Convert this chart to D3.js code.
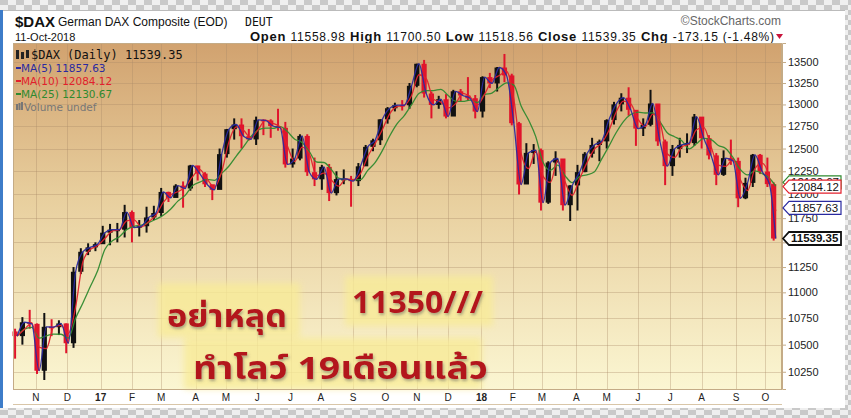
<!DOCTYPE html>
<html><head><meta charset="utf-8">
<script src="https://cdn.jsdelivr.net/npm/d3@7"></script>
<style>
html,body{margin:0;padding:0;background:#fff;}
svg{display:block;}
</style>
</head><body>
<svg id="c" width="851" height="418"></svg>
<script>
// ---------------- DATA ----------------
const weekEnd = ["2016-10-14","2016-10-21","2016-10-28","2016-11-04","2016-11-11","2016-11-18","2016-11-25","2016-12-02","2016-12-09","2016-12-16","2016-12-23","2016-12-30",
"2017-01-06","2017-01-13","2017-01-20","2017-01-27","2017-02-03","2017-02-10","2017-02-17","2017-02-24","2017-03-03","2017-03-10","2017-03-17","2017-03-24","2017-03-31",
"2017-04-07","2017-04-14","2017-04-21","2017-04-28","2017-05-05","2017-05-12","2017-05-19","2017-05-26","2017-06-02","2017-06-09","2017-06-16","2017-06-23","2017-06-30",
"2017-07-07","2017-07-14","2017-07-21","2017-07-28","2017-08-04","2017-08-11","2017-08-18","2017-08-25","2017-09-01","2017-09-08","2017-09-15","2017-09-22","2017-09-29",
"2017-10-06","2017-10-13","2017-10-20","2017-10-27","2017-11-03","2017-11-10","2017-11-17","2017-11-24","2017-12-01","2017-12-08","2017-12-15","2017-12-22","2017-12-29",
"2018-01-05","2018-01-12","2018-01-19","2018-01-26","2018-02-02","2018-02-09","2018-02-16","2018-02-23","2018-03-02","2018-03-09","2018-03-16","2018-03-23","2018-03-30",
"2018-04-06","2018-04-13","2018-04-20","2018-04-27","2018-05-04","2018-05-11","2018-05-18","2018-05-25","2018-06-01","2018-06-08","2018-06-15","2018-06-22","2018-06-29",
"2018-07-06","2018-07-13","2018-07-20","2018-07-27","2018-08-03","2018-08-10","2018-08-17","2018-08-24","2018-08-31","2018-09-07","2018-09-14","2018-09-21","2018-09-28",
"2018-10-05","2018-10-11"];
const firstOpen = 10624;
const weekClose = [10580,10711,10696,10259,10668,10664,10700,10513,11203,11404,11449,11481,
11599,11630,11630,11814,11651,11666,11757,11804,12027,11963,12095,12064,12313,
12225,12109,12049,12438,12717,12770,12638,12602,12823,12816,12753,12733,12325,
12389,12641,12240,12163,12298,12014,12165,12168,12143,12304,12519,12592,12829,
12956,12992,12991,13217,13479,13127,12994,13060,12861,13153,13104,13072,12918,
13320,13245,13434,13340,12785,12107,12452,12483,11913,12346,12390,11886,12097,
12241,12442,12540,12580,12820,13001,13078,12938,12724,12767,13011,12580,12306,
12496,12541,12561,12860,12616,12424,12211,12394,12364,11959,12124,12431,12247,
12111,11539];
const weekHigh = [10650,10760,10830,10700,10800,10740,10730,10700,11250,11440,11490,11500,
11670,11690,11700,11890,11830,11730,11870,11880,12070,12030,12110,12140,12320,
12310,12240,12100,12500,12720,12840,12840,12720,12860,12830,12830,12950,12800,
12500,12660,12660,12400,12320,12330,12250,12270,12200,12340,12540,12610,12830,
12970,13020,13050,13250,13480,13525,13150,13100,13120,13170,13180,13320,13110,
13330,13370,13440,13597,13360,12800,12560,12550,12500,12360,12470,12360,12100,
12320,12460,12620,12600,12830,13030,13130,13200,12880,12840,13170,13000,12600,
12540,12620,12670,12890,12830,12650,12450,12480,12600,12400,12180,12440,12440,
12400,12130];
const weekLow = [10370,10500,10650,10230,10175,10580,10590,10420,10470,11180,11370,11410,
11530,11470,11500,11550,11500,11560,11600,11730,11770,11920,11990,11860,12040,
12150,12080,11940,12380,12400,12600,12500,12590,12540,12650,12620,12700,12290,
12290,12370,12200,12090,12050,11930,11990,12110,11870,12090,12330,12470,12540,
12780,12920,12930,12950,13200,13080,12840,12950,12840,12880,13040,13040,12840,
12850,13190,13150,13260,12760,12000,12200,12330,11830,11900,12200,11830,11720,
11830,12240,12400,12360,12500,12770,12920,12870,12530,12640,12750,12530,12100,
12200,12400,12450,12530,12500,12380,12100,12200,12320,11865,11950,12080,12220,
12080,11518];
const priceTicks = [10250,10500,10750,11000,11250,11500,11750,12000,12250,12500,12750,13000,13250,13500];
const monthStarts = ["2016-11-01","2016-12-01","2017-01-02","2017-02-01","2017-03-01","2017-04-03","2017-05-02","2017-06-01","2017-07-03","2017-08-01","2017-09-01","2017-10-02",
"2017-11-01","2017-12-01","2018-01-02","2018-02-01","2018-03-01","2018-04-03","2018-05-02","2018-06-01","2018-07-02","2018-08-01","2018-09-03","2018-10-01"];
const monthLabels = ["N","D","17","F","M","A","M","J","J","A","S","O","N","D","18","F","M","A","M","J","J","A","S","O"];
const maPeriodsWeeks = [1,2,5];         // approx. of 5 / 10 / 25 trading days on weekly closes
const maNames = ["MA(5)","MA(10)","MA(25)"];
const maLast = [11857.63,12084.12,12130.67];
const maColors = ["#2a2aa0","#e3202c","#2f8a2f"];
const lastClose = 11539.35;
const supportLevels = [11475,11370];
const supportStart = ["2017-02-15","2016-12-30"];
const supportEnd = ["2018-10-01","2018-10-15"];
const header = {open:"11558.98",high:"11700.50",low:"11518.56",close:"11539.35",chg:"-173.15 (-1.48%)"};
const notes = ["อย่าหลุด","11350///","ทำโลว์ 19เดือนแล้ว"];

// ---------------- LAYOUT ----------------
const svg = d3.select("#c");
const L = 13, R = 782, T = 43, B = 389;
const parse = d3.timeParse("%Y-%m-%d");
const x = d3.scaleTime().domain([parse("2016-10-10"), parse("2018-10-17")]).range([L, R]);
const y = d3.scaleLog().domain([10094, 13730]).range([B, T]);

const defs = svg.append("defs");
const pat = defs.append("pattern").attr("id","chk").attr("width",16).attr("height",10).attr("patternUnits","userSpaceOnUse");
pat.append("rect").attr("width",16).attr("height",10).attr("fill","#efefef");
pat.append("rect").attr("x",0).attr("y",0).attr("width",8).attr("height",5).attr("fill","#c9c9c9");
pat.append("rect").attr("x",8).attr("y",5).attr("width",8).attr("height",5).attr("fill","#c9c9c9");
const grad = defs.append("linearGradient").attr("id","bg").attr("x1",0).attr("y1",0).attr("x2",0).attr("y2",1);
grad.append("stop").attr("offset","0%").attr("stop-color","#d1a26f");
grad.append("stop").attr("offset","45%").attr("stop-color","#e8cf9e");
grad.append("stop").attr("offset","100%").attr("stop-color","#fbf6d2");
const sh = defs.append("filter").attr("id","shadow").attr("x","-10%").attr("y","-50%").attr("width","120%").attr("height","300%");
sh.append("feDropShadow").attr("dx",1).attr("dy",2).attr("stdDeviation",1.5).attr("flood-color","#555").attr("flood-opacity",0.5);
const blur = defs.append("filter").attr("id","soft").attr("x","-20%").attr("y","-20%").attr("width","140%").attr("height","140%");
blur.append("feGaussianBlur").attr("stdDeviation",3);

// frame: checker borders
svg.append("rect").attr("x",0).attr("y",0).attr("width",851).attr("height",10).attr("fill","url(#chk)");
svg.append("rect").attr("x",0).attr("y",408).attr("width",851).attr("height",10).attr("fill","url(#chk)");
svg.append("rect").attr("x",845).attr("y",0).attr("width",6).attr("height",418).attr("fill","url(#chk)");
svg.append("rect").attr("x",0).attr("y",10).attr("width",3).attr("height",398).attr("fill","#3d7cc9");
svg.append("line").attr("x1",3).attr("x2",845).attr("y1",10.5).attr("y2",10.5).attr("stroke","#bbb");

// header
const ht = svg.append("g").attr("font-family","Liberation Sans, Arial, sans-serif").attr("fill","#111");
ht.append("text").attr("x",15).attr("y",27).attr("font-size",15).attr("font-weight","bold").text("$DAX");
ht.append("text").attr("x",58).attr("y",26).attr("font-size",12).text("German DAX Composite (EOD)");
ht.append("text").attr("x",245).attr("y",26).attr("font-size",11.5).attr("font-family","DejaVu Sans Mono, monospace").text("DEUT");
ht.append("text").attr("x",781).attr("y",25).attr("font-size",12).attr("fill","#666").attr("text-anchor","end").text("\u00A9StockCharts.com");
ht.append("text").attr("x",15).attr("y",41).attr("font-size",11).text("11-Oct-2018");
const ohlc = ht.append("text").attr("x",774).attr("y",41).attr("text-anchor","end").attr("font-size",12).attr("textLength",524).attr("lengthAdjust","spacing");
[["Open ",header.open],["High ",header.high],["Low ",header.low],["Close ",header.close],["Chg ",header.chg]].forEach((p,i)=>{
  ohlc.append("tspan").attr("font-weight","bold").attr("font-size",13).text((i?"  ":"")+p[0]);
  ohlc.append("tspan").text(p[1]);
});
svg.append("path").attr("d","M776,34 L783,34 L779.5,39 Z").attr("fill","#c8143c");

// plot background
svg.append("rect").attr("x",L).attr("y",T).attr("width",R-L).attr("height",B-T).attr("fill","url(#bg)");

// gridlines
const grid = svg.append("g").attr("stroke","#a88a66").attr("stroke-opacity",0.35).attr("stroke-width",1);
grid.selectAll("line.h").data(priceTicks).join("line").attr("x1",L).attr("x2",R)
  .attr("y1",d=>Math.round(y(d))+0.5).attr("y2",d=>Math.round(y(d))+0.5);
grid.selectAll("line.v").data(monthStarts).join("line").attr("y1",T).attr("y2",B)
  .attr("x1",d=>Math.round(x(parse(d)))+0.5).attr("x2",d=>Math.round(x(parse(d)))+0.5);

// annotation highlight boxes (behind data)
const hl = svg.append("g").attr("fill","#f8eb98").attr("opacity",0.8).attr("filter","url(#soft)");
hl.append("rect").attr("x",158).attr("y",283).attr("width",142).attr("height",54);
hl.append("rect").attr("x",345).attr("y",276).attr("width",148).attr("height",50);
hl.append("rect").attr("x",184).attr("y",338).attr("width",298).attr("height",51);

// bars
const weeks = weekEnd.map((d,i)=>({date:parse(d), mid:d3.timeDay.offset(parse(d),-2), h:weekHigh[i], l:weekLow[i], c:weekClose[i], o: i===0?firstOpen:weekClose[i-1]}));
const bars = svg.append("g");
bars.selectAll("line").data(weeks).join("line")
  .attr("x1",d=>x(d.mid)).attr("x2",d=>x(d.mid)).attr("y1",d=>y(d.h)).attr("y2",d=>y(d.l))
  .attr("stroke",d=>d.c>=d.o?"#111":"#e0142c").attr("stroke-width",2);
bars.selectAll("rect").data(weeks).join("rect")
  .attr("x",d=>x(d.mid)-2.6).attr("width",5.2)
  .attr("y",d=>y(Math.max(d.o,d.c))).attr("height",d=>Math.max(1.5,Math.abs(y(d.o)-y(d.c))))
  .attr("fill",d=>d.c>=d.o?"#111":"#e0142c");

// moving averages
function sma(n){ return weeks.map((w,i)=>{ const s = weeks.slice(Math.max(0,i-n+1), i+1); return {date:w.date, v:d3.mean(s,e=>e.c)}; }); }
const line = d3.line().x(d=>x(d.date)).y(d=>y(d.v)).curve(d3.curveMonotoneX);
[2,1,0].forEach(k=>{
  svg.append("path").datum(sma(maPeriodsWeeks[k])).attr("d",line).attr("fill","none")
    .attr("stroke",maColors[k]).attr("stroke-width",1.3).attr("stroke-opacity",0.95);
});

// support lines
supportLevels.forEach((lv,i)=>{
  svg.append("line").attr("x1",x(parse(supportStart[i]))).attr("x2",x(parse(supportEnd[i])))
    .attr("y1",y(lv)).attr("y2",y(lv)).attr("stroke","#b81e2a").attr("stroke-width",3).attr("filter","url(#shadow)");
});

// annotations
const an = svg.append("g").attr("fill","#b3141e").attr("font-family","Tahoma, 'Noto Sans Thai', 'DejaVu Sans', sans-serif")
  .attr("font-weight","bold").attr("filter","url(#shadow)");
an.append("text").attr("x",167).attr("y",327).attr("font-size",31).attr("textLength",120).attr("lengthAdjust","spacingAndGlyphs").text(notes[0]);
an.append("text").attr("x",352).attr("y",313).attr("font-size",30).attr("textLength",131).attr("lengthAdjust","spacingAndGlyphs").text(notes[1]);
an.append("text").attr("x",193).attr("y",379).attr("font-size",31).attr("textLength",295).attr("lengthAdjust","spacingAndGlyphs").text(notes[2]);

// legend
const lg = svg.append("g");
lg.append("rect").attr("x",16).attr("y",50).attr("width",3).attr("height",9).attr("fill","#222");
lg.append("rect").attr("x",21).attr("y",52).attr("width",3).attr("height",7).attr("fill","#222");
lg.append("rect").attr("x",26).attr("y",50).attr("width",3).attr("height",8).attr("fill","#222");
lg.append("text").attr("x",31).attr("y",59).attr("font-family","DejaVu Sans Mono, monospace").attr("font-size",12).attr("fill","#111").text("$DAX (Daily) "+lastClose.toFixed(2));
maNames.forEach((nm,i)=>{
  const yy = 72 + i*13;
  lg.append("line").attr("x1",16).attr("x2",21).attr("y1",yy-4).attr("y2",yy-4).attr("stroke",maColors[i]).attr("stroke-width",2);
  lg.append("text").attr("x",21).attr("y",yy).attr("font-family","DejaVu Sans, sans-serif").attr("font-size",10.5).attr("fill",maColors[i]).text(nm+" "+maLast[i].toFixed(2));
});
[0,1,2].forEach(k=>lg.append("rect").attr("x",16+k*2.5).attr("y",102+ (2-k)).attr("width",2).attr("height",8-(2-k)).attr("fill","#777"));
lg.append("text").attr("x",24).attr("y",111).attr("font-family","DejaVu Sans, sans-serif").attr("font-size",10.5).attr("fill","#777").text("Volume undef");

// plot frame
svg.append("rect").attr("x",L+0.5).attr("y",T+0.5).attr("width",R-L-1).attr("height",B-T).attr("fill","none").attr("stroke","#c4ab86");

// right axis (a label fully hidden behind a last-value box is not drawn)
const boxes = [{v:maLast[2],c:maColors[2],t:maLast[2].toFixed(2),b:false},{v:maLast[1],c:maColors[1],t:maLast[1].toFixed(2),b:false},{v:maLast[0],c:maColors[0],t:maLast[0].toFixed(2),b:false},{v:lastClose,c:"#111",t:lastClose.toFixed(2),b:true}];
const hidden = v => boxes.some(b=>Math.abs(y(b.v)-y(v))<4);
const ra = svg.append("g").attr("transform",`translate(${R},0)`);
ra.call(d3.axisRight(y).tickValues(priceTicks).tickFormat(d=>hidden(d)?"":d3.format("d")(d)).tickSize(4))
  .call(g=>g.select(".domain").attr("stroke","#c4ab86"))
  .call(g=>g.selectAll(".tick line").attr("stroke","#c4ab86"))
  .call(g=>g.selectAll("text").attr("font-family","Liberation Sans, Arial, sans-serif").attr("font-size",11).attr("fill","#222").attr("x",6));

// price boxes
boxes.forEach((bx,i)=>{
  const yy = y(bx.v);
  const g = svg.append("g");
  g.append("path").attr("d",`M${R+1},${yy} L${R+7},${yy-6.5} L841,${yy-6.5} L841,${yy+6.5} L${R+7},${yy+6.5} Z`)
    .attr("fill","#fff").attr("stroke",bx.c).attr("stroke-width",bx.b?1.8:1.2);
  g.append("text").attr("x",R+9).attr("y",yy+4).attr("font-family","Liberation Sans, Arial, sans-serif")
    .attr("font-size",11.5).attr("font-weight",bx.b?"bold":"normal").attr("fill","#111").text(bx.t);
});

// bottom axis
const ba = svg.append("g").attr("transform",`translate(0,${B})`);
ba.append("line").attr("x1",L).attr("x2",R).attr("y1",0.5).attr("y2",0.5).attr("stroke","#c4ab86");
ba.append("line").attr("x1",L).attr("x2",R).attr("y1",15.5).attr("y2",15.5).attr("stroke","#d9c6a8");
ba.selectAll("text").data(monthStarts).join("text")
  .attr("x",d=>x(parse(d))).attr("y",12).attr("text-anchor","middle")
  .attr("font-family","Liberation Sans, Arial, sans-serif").attr("font-size",10)
  .attr("font-weight",(d,i)=>monthLabels[i].length>1?"bold":"normal").attr("fill","#222")
  .text((d,i)=>monthLabels[i]);
</script>
</body></html>
